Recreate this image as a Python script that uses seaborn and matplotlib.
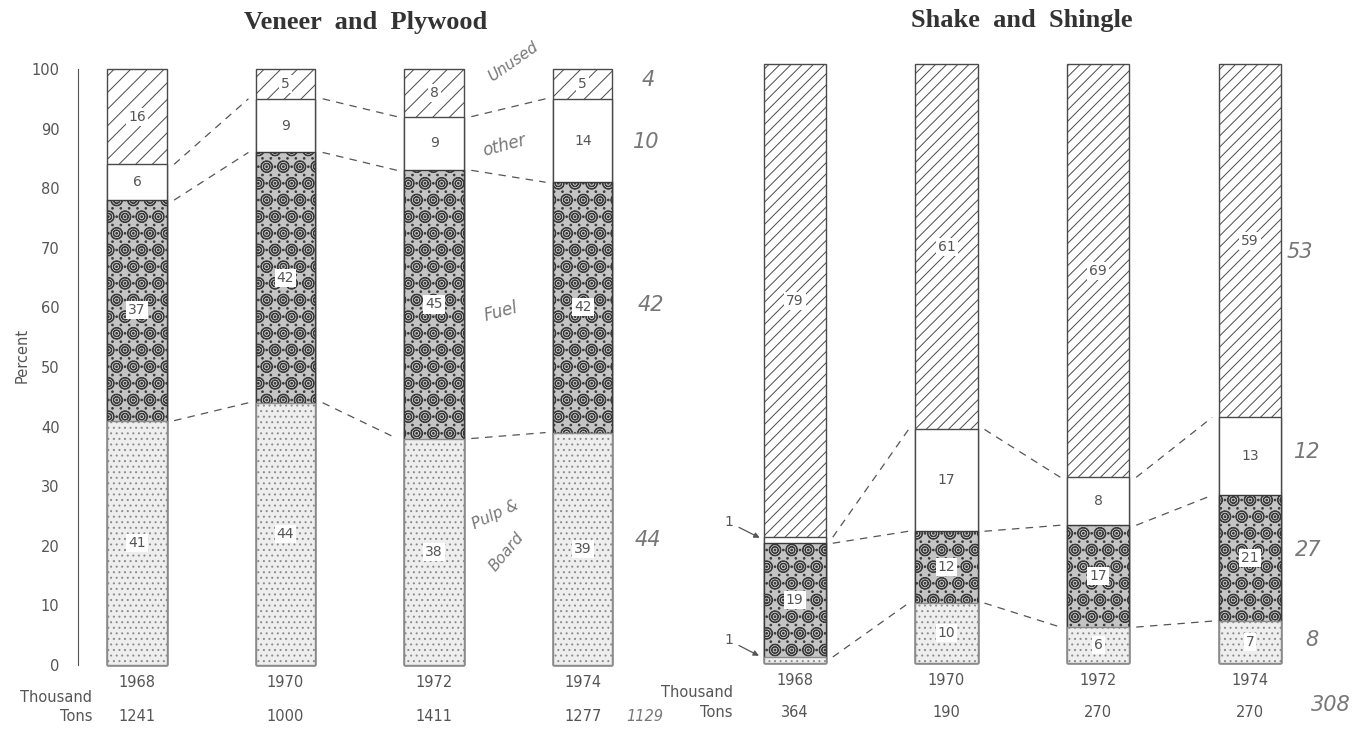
import matplotlib
matplotlib.use("Agg")
import matplotlib.pyplot as plt
import numpy as np
import pandas as pd
import seaborn as sns

years = ["1968", "1970", "1972", "1974"]
layers = ["pulp", "fuel", "other", "unused"]

vp_pulp = [41, 44, 38, 39]
vp_fuel = [37, 42, 45, 42]
vp_other = [6, 9, 9, 14]
vp_unused = [16, 5, 8, 5]
vp_tons = ["1241", "1000", "1411", "1277"]

ss_pulp = [1, 10, 6, 7]
ss_fuel = [19, 12, 17, 21]
ss_other = [1, 17, 8, 13]
ss_unused = [79, 61, 69, 59]
ss_tons = ["364", "190", "270", "270"]

sns.set_style("white")
plt.rcParams["font.family"] = ["DejaVu Sans"]
plt.rcParams["hatch.linewidth"] = 0.7

INK = "#4a4a4a"
styles = {
    "pulp": dict(color="#eeeeee", hatch="...", edgecolor="#8a8a8a"),
    "fuel": dict(color="#c4c4c4", hatch="Oo..", edgecolor="#3a3a3a"),
    "other": dict(color="white", hatch=None, edgecolor=INK),
    "unused": dict(color="white", hatch="//", edgecolor=INK),
}


def draw_panel(ax, parts, width, gap, skip_labels=()):
    df = pd.DataFrame(parts, index=years)[layers]
    cum = df.cumsum(axis=1)
    # stack by overdrawing cumulative totals, tallest first
    for name in reversed(layers):
        st = styles[name]
        sns.barplot(x=years, y=cum[name].values, ax=ax, color=st["color"],
                    hatch=st["hatch"], edgecolor=st["edgecolor"], linewidth=1.0,
                    width=width, saturation=1, errorbar=None)
    for p in ax.patches:
        p.set_clip_on(False)
    # value labels
    for i, yr in enumerate(years):
        for name in layers:
            if (i, name) in skip_labels:
                continue
            v = df.loc[yr, name]
            mid = cum.loc[yr, name] - v / 2
            ax.text(i, mid, str(v), ha="center", va="center", fontsize=10,
                    color="#555555",
                    bbox=dict(facecolor="white", edgecolor="none", pad=1.5))
    # dashed connectors between bars
    for i in range(len(years) - 1):
        for name in layers[:-1]:
            ax.plot([i + width / 2 + gap, i + 1 - width / 2 - gap],
                    [cum.iloc[i][name], cum.iloc[i + 1][name]],
                    color="#555555", lw=0.9, ls=(0, (6, 5)))
    ax.set_ylim(0, 100)
    ax.set_xlabel("")
    ax.tick_params(axis="x", length=0, pad=7, labelsize=10.5, labelcolor="#555555")


fig = plt.figure(figsize=(13.72, 7.34), dpi=100)
ax1 = fig.add_axes([0.0565, 0.0940, 0.4224, 0.8120])
ax2 = fig.add_axes([0.5240, 0.0967, 0.4424, 0.8161])

draw_panel(ax1, dict(pulp=vp_pulp, fuel=vp_fuel, other=vp_other, unused=vp_unused),
           width=0.40, gap=0.05)
styles["unused"]["hatch"] = "///"
draw_panel(ax2, dict(pulp=ss_pulp, fuel=ss_fuel, other=ss_other, unused=ss_unused),
           width=0.41, gap=0.045, skip_labels={(0, "pulp"), (0, "other")})

ax1.set_xlim(-0.4, 3.5)
ax2.set_xlim(-0.5, 3.5)

# left axis
for s in ["top", "right", "bottom"]:
    ax1.spines[s].set_visible(False)
ax1.spines["left"].set_color("#555555")
ax1.set_yticks(np.arange(0, 101, 10))
ax1.tick_params(axis="y", direction="out", length=5, width=1, color="#555555",
                pad=8, labelsize=10.5, labelcolor="#555555")
ax1.set_ylabel("Percent", fontsize=10.5, color="#555555")
ax1.yaxis.set_label_coords(-0.082, 0.52)

for s in ax2.spines.values():
    s.set_visible(False)
ax2.set_yticks([])

fig.text(366 / 1372, 1 - 23 / 734, "Veneer  and  Plywood", ha="center", va="center",
         fontsize=19, fontweight="bold", family="Liberation Serif", color="#333333")
fig.text(1022 / 1372, 1 - 21 / 734, "Shake  and  Shingle", ha="center", va="center",
         fontsize=19, fontweight="bold", family="Liberation Serif", color="#333333")

# tonnage rows
txt = dict(fontsize=10.5, color="#555555", va="center")
ax1.text(-0.30, -5.4, "Thousand", ha="right", **txt)
ax1.text(-0.30, -8.7, "Tons", ha="right", **txt)
for i, t in enumerate(vp_tons):
    ax1.text(i, -8.7, t, ha="center", **txt)
ax2.text(-0.41, -5.0, "Thousand", ha="right", **txt)
ax2.text(-0.41, -8.3, "Tons", ha="right", **txt)
for i, t in enumerate(ss_tons):
    ax2.text(i, -8.3, t, ha="center", **txt)

# the two 1% slivers in the 1968 shake bar
arrow = dict(arrowstyle="-|>", color="#555555", lw=0.9, mutation_scale=8)
ax2.annotate("1", xy=(-0.215, 20.7), xytext=(-0.435, 23.5), ha="center", va="center",
             fontsize=10, color="#555555", arrowprops=arrow)
ax2.annotate("1", xy=(-0.22, 1.0), xytext=(-0.435, 3.8), ha="center", va="center",
             fontsize=10, color="#555555", arrowprops=arrow)

# handwritten notes on the scan
hand = dict(color="#777777", style="italic", ha="center", va="center")
ax1.text(2.53, 101.2, "Unused", rotation=35, fontsize=11, **hand)
ax1.text(2.47, 87.2, "other", rotation=15, fontsize=12, **hand)
ax1.text(2.45, 59.2, "Fuel", rotation=15, fontsize=12, **hand)
ax1.text(2.41, 25.2, "Pulp &", rotation=25, fontsize=11, **hand)
ax1.text(2.49, 19.0, "Board", rotation=50, fontsize=11, **hand)
ax1.text(3.44, 98.2, "4", fontsize=15, **hand)
ax1.text(3.43, 87.8, "10", fontsize=15, **hand)
ax1.text(3.46, 60.4, "42", fontsize=15, **hand)
ax1.text(3.44, 21.0, "44", fontsize=15, **hand)
ax1.text(3.42, -8.6, "1129", fontsize=10.5, **hand)
ax2.text(3.33, 68.6, "53", fontsize=15, **hand)
ax2.text(3.38, 35.2, "12", fontsize=15, **hand)
ax2.text(3.38, 18.9, "27", fontsize=15, **hand)
ax2.text(3.41, 3.8, "8", fontsize=15, **hand)
ax2.text(3.53, -7.0, "308", fontsize=15, **hand)

fig.savefig("out.png", dpi=100)
